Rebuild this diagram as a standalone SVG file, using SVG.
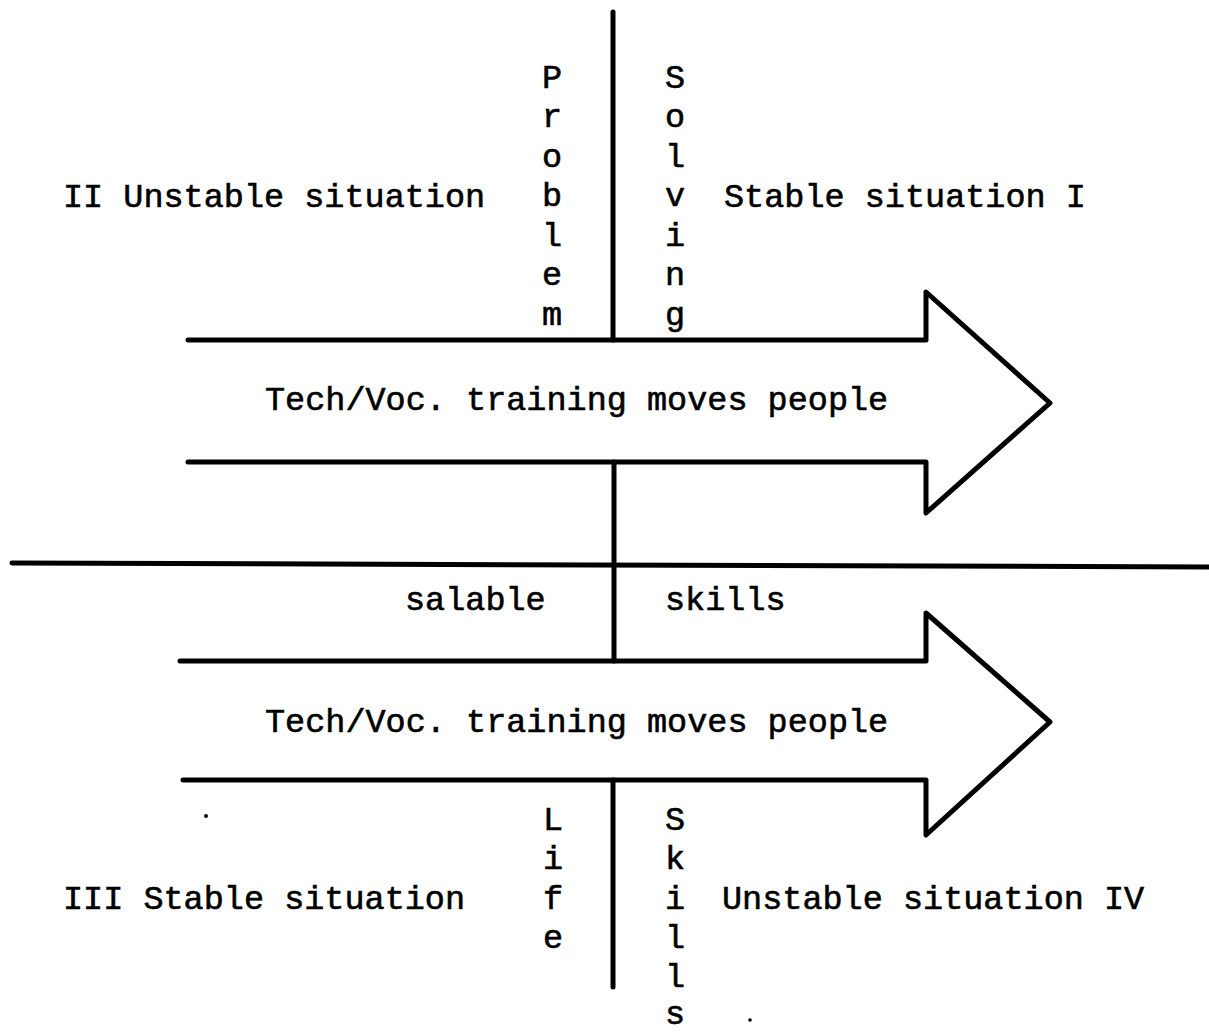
<svg xmlns="http://www.w3.org/2000/svg" width="1209" height="1032" viewBox="0 0 1209 1032">
  <style>
    .ln { stroke: #000; stroke-width: 5; fill: none; stroke-linecap: round; stroke-linejoin: round; }
    .tx { font-family: "Liberation Mono", "DejaVu Sans Mono", monospace; font-size: 33.5px; fill: #000; stroke: #000; stroke-width: 0.6; }
    .vc { text-anchor: middle; }
  </style>
  <rect width="1209" height="1032" fill="#fff"/>

  <!-- axes and dividing lines -->
  <g id="connectors">
    <line class="ln" x1="613" y1="12" x2="613" y2="340"/>
    <line class="ln" x1="614" y1="462" x2="614" y2="661"/>
    <line class="ln" x1="613" y1="780" x2="613" y2="987"/>
    <line class="ln" x1="12" y1="563" x2="1209" y2="567"/>
  </g>

  <!-- upper arrow -->
  <g id="arrow-upper">
    <path class="ln" d="M188 340 H926 V292 L1050 403 L926 513 V462 H188"/>
    <text class="tx" x="265" y="410">Tech/Voc. training moves people</text>
  </g>

  <!-- lower arrow -->
  <g id="arrow-lower">
    <path class="ln" d="M180 661 H926 V613 L1050 722 L926 835 V780 H183"/>
    <text class="tx" x="265" y="732">Tech/Voc. training moves people</text>
  </g>

  <!-- quadrant labels -->
  <g id="quadrant-II"><text class="tx" x="63" y="207">II Unstable situation</text></g>
  <g id="quadrant-I"><text class="tx" x="724" y="207">Stable situation I</text></g>
  <g id="quadrant-III"><text class="tx" x="63" y="909">III Stable situation</text></g>
  <g id="quadrant-IV"><text class="tx" x="722" y="909">Unstable situation IV</text></g>

  <!-- vertical words along the axis -->
  <g id="label-problem" class="tx vc">
    <text x="552" y="88">P</text><text x="552" y="127">r</text><text x="552" y="167">o</text>
    <text x="552" y="206">b</text><text x="552" y="246">l</text><text x="552" y="285">e</text>
    <text x="552" y="325">m</text>
  </g>
  <g id="label-solving" class="tx vc">
    <text x="675" y="88">S</text><text x="675" y="127">o</text><text x="675" y="167">l</text>
    <text x="675" y="206">v</text><text x="675" y="246">i</text><text x="675" y="285">n</text>
    <text x="675" y="325">g</text>
  </g>
  <g id="label-life" class="tx vc">
    <text x="553" y="830">L</text><text x="553" y="869">i</text><text x="553" y="909">f</text>
    <text x="553" y="948">e</text>
  </g>
  <g id="label-skills" class="tx vc">
    <text x="675" y="830">S</text><text x="675" y="869">k</text><text x="675" y="909">i</text>
    <text x="675" y="948">l</text><text x="675" y="987">l</text><text x="675" y="1024">s</text>
  </g>

  <!-- labels beside the axis below the divider -->
  <g id="label-salable"><text class="tx" x="405" y="610">salable</text></g>
  <g id="label-skills-h"><text class="tx" x="665" y="610">skills</text></g>

  <!-- stray marks -->
  <circle cx="206" cy="816" r="2" fill="#000"/>
  <circle cx="750" cy="1020" r="1.8" fill="#000"/>
</svg>
